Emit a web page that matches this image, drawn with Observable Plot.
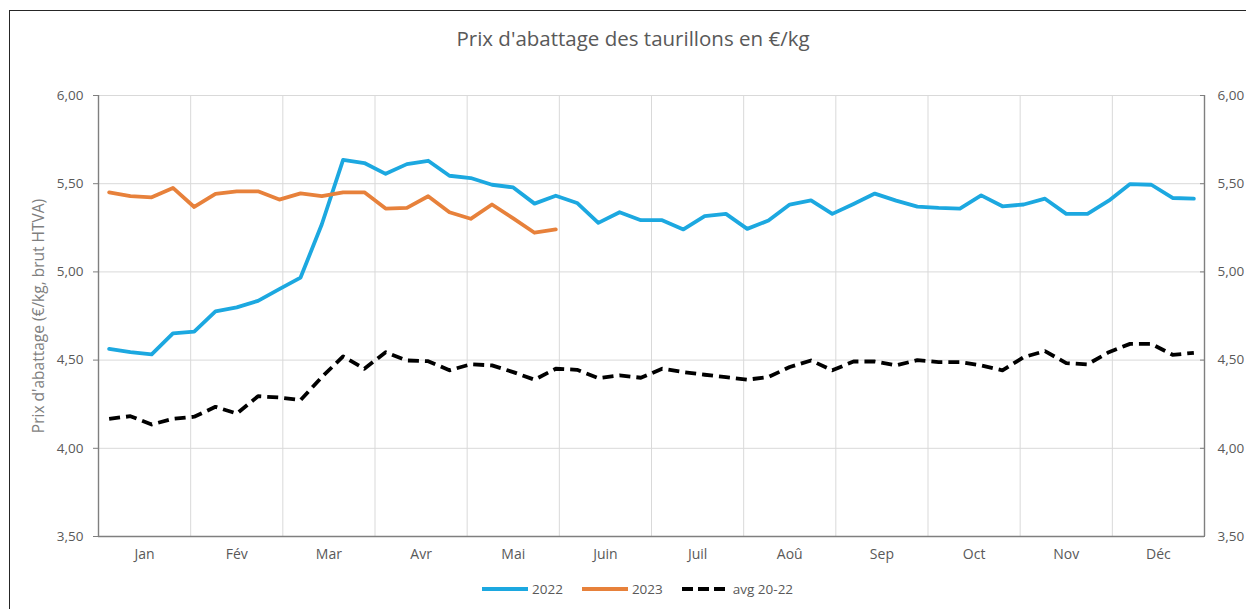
<!DOCTYPE html>
<html>
<head>
<meta charset="utf-8">
<script src="https://cdn.jsdelivr.net/npm/d3@7"></script>
<script src="https://cdn.jsdelivr.net/npm/@observablehq/plot@0.6"></script>
<style>
  body { margin: 0; background: #fff; font-family: "Open Sans", sans-serif; }
  #wrap { position: relative; width: 1246px; height: 609px; overflow: hidden; background: #fff; }
  #border { position: absolute; left: 9px; top: 10px; width: 1240px; height: 640px;
            border-left: 1.5px solid #262626; border-top: 1.5px solid #262626; }
  #title { position: absolute; top: 24px; left: 633px; transform: translateX(-50%);
           white-space: nowrap; font-size: 20.5px; color: #595959; }
  #chart { position: absolute; left: 0; top: 0; }
  #legend { position: absolute; left: 482px; top: 580px; display: flex; align-items: center;
            font-size: 13.5px; color: #595959; white-space: nowrap; }
  .item { display: flex; align-items: center; }
  .item svg { display: block; }
</style>
</head>
<body>
<div id="wrap">
  <div id="border"></div>
  <div id="chart"></div>
  <div id="title">Prix d'abattage des taurillons en €/kg</div>
  <div id="legend"></div>
</div>
<script>
const months = ["Jan", "Fév", "Mar", "Avr", "Mai", "Juin", "Juil", "Aoû", "Sep", "Oct", "Nov", "Déc"];
const yTicks = [3.5, 4.0, 4.5, 5.0, 5.5, 6.0];
const seriesNames = ["2022", "2023", "avg 20-22"];
const seriesColors = ["#1CA8E0", "#E7813B", "#000000"];

// weekly values, week 1..52
const s2022 = [4.564, 4.545, 4.532, 4.652, 4.662, 4.776, 4.799, 4.836, 4.902, 4.968,
  5.270, 5.635, 5.617, 5.556, 5.611, 5.630, 5.545, 5.532, 5.494, 5.479,
  5.387, 5.432, 5.391, 5.278, 5.338, 5.293, 5.293, 5.241, 5.316, 5.329,
  5.244, 5.291, 5.382, 5.406, 5.329, 5.385, 5.444, 5.404, 5.370, 5.363,
  5.359, 5.434, 5.372, 5.382, 5.415, 5.329, 5.329, 5.404, 5.498, 5.494,
  5.419, 5.415];
const s2023 = [5.451, 5.429, 5.423, 5.476, 5.368, 5.442, 5.457, 5.457, 5.410, 5.445,
  5.429, 5.451, 5.451, 5.359, 5.363, 5.429, 5.338, 5.301, 5.382, 5.303,
  5.222, 5.241];
const sAvg = [4.167, 4.182, 4.135, 4.167, 4.179, 4.235, 4.197, 4.295, 4.288, 4.273,
  4.404, 4.521, 4.451, 4.545, 4.498, 4.494, 4.442, 4.476, 4.470, 4.432,
  4.389, 4.451, 4.445, 4.398, 4.413, 4.400, 4.451, 4.432, 4.417, 4.404,
  4.389, 4.404, 4.461, 4.498, 4.442, 4.492, 4.492, 4.470, 4.500, 4.489,
  4.489, 4.470, 4.442, 4.517, 4.551, 4.483, 4.476, 4.545, 4.592, 4.592,
  4.530, 4.541];

const nWeeks = 52;
const wpm = nWeeks / 12;
const toRows = (arr, name) => arr.map((v, i) => ({week: i + 1, value: v, series: name}));
const r2022 = toRows(s2022, seriesNames[0]);
const r2023 = toRows(s2023, seriesNames[1]);
const rAvg = toRows(sAvg, seriesNames[2]);

const fmt = d => d.toFixed(2).replace(".", ",");
const monthCenters = months.map((m, i) => (i + 0.5) * wpm);
const monthBounds = d3.range(1, 12).map(i => i * wpm);
const monthLabel = d => months[Math.round(d / wpm - 0.5)];
const axisColor = "#7f7f7f";
const gridColor = "#d9d9d9";

const chart = Plot.plot({
  width: 1246,
  height: 570,
  marginTop: 95,
  marginBottom: 34,
  marginLeft: 98,
  marginRight: 42,
  style: {fontFamily: '"Open Sans", sans-serif', fontSize: "13.5px", color: "#595959", background: "transparent", overflow: "visible"},
  x: {domain: [0, nWeeks]},
  y: {domain: [yTicks[0], yTicks[yTicks.length - 1]]},
  marks: [
    Plot.gridY(yTicks.slice(1), {stroke: gridColor, strokeOpacity: 1, strokeWidth: 1}),
    Plot.ruleX(monthBounds, {stroke: gridColor, strokeWidth: 1}),
    Plot.axisX(monthCenters, {tickSize: 0, tickPadding: 13, tickFormat: monthLabel, label: null, fill: "#595959", fontSize: 14}),
    Plot.axisY(yTicks, {anchor: "left", tickSize: 5, tickPadding: 10, tickFormat: fmt, label: null, stroke: axisColor, fill: "#595959", fontSize: 13.5}),
    Plot.axisY(yTicks, {anchor: "right", tickSize: 5, dx: -5, tickPadding: 13, tickFormat: fmt, label: null, stroke: axisColor, fill: "#595959", fontSize: 13.5}),
    Plot.ruleX([0, nWeeks], {stroke: axisColor, strokeWidth: 1.4}),
    Plot.ruleY([yTicks[0]], {stroke: axisColor, strokeWidth: 1.4}),
    Plot.text(["Prix d'abattage (€/kg, brut HTVA)"], {frameAnchor: "left", textAnchor: "middle", lineAnchor: "middle", dx: -59, rotate: -90, fill: "#7f7f7f", fontSize: 15.5}),
    Plot.line(r2022, {x: d => d.week - 0.5, y: "value", stroke: seriesColors[0], strokeWidth: 3.8, strokeLinejoin: "round"}),
    Plot.line(r2023, {x: d => d.week - 0.5, y: "value", stroke: seriesColors[1], strokeWidth: 3.8, strokeLinejoin: "round"}),
    Plot.line(rAvg, {x: d => d.week - 0.5, y: "value", stroke: seriesColors[2], strokeWidth: 3.8, strokeDasharray: "11,6", strokeLinecap: "butt", strokeLinejoin: "round"})
  ]
});
document.getElementById("chart").appendChild(chart);

// legend
const legend = document.getElementById("legend");
const gaps = [19, 19, 0];
seriesNames.forEach((name, i) => {
  const item = document.createElement("div");
  item.className = "item";
  item.style.marginRight = gaps[i] + "px";
  const w = i === 2 ? 43 : 46;
  const dash = i === 2 ? ' stroke-dasharray="11,5"' : "";
  item.innerHTML = `<svg width="${w}" height="10"><line x1="0" y1="5" x2="${w}" y2="5" stroke="${seriesColors[i]}" stroke-width="4"${dash}/></svg>` +
    `<span style="margin-left:${i === 2 ? 8 : 4}px">${name}</span>`;
  legend.appendChild(item);
});
</script>
</body>
</html>
